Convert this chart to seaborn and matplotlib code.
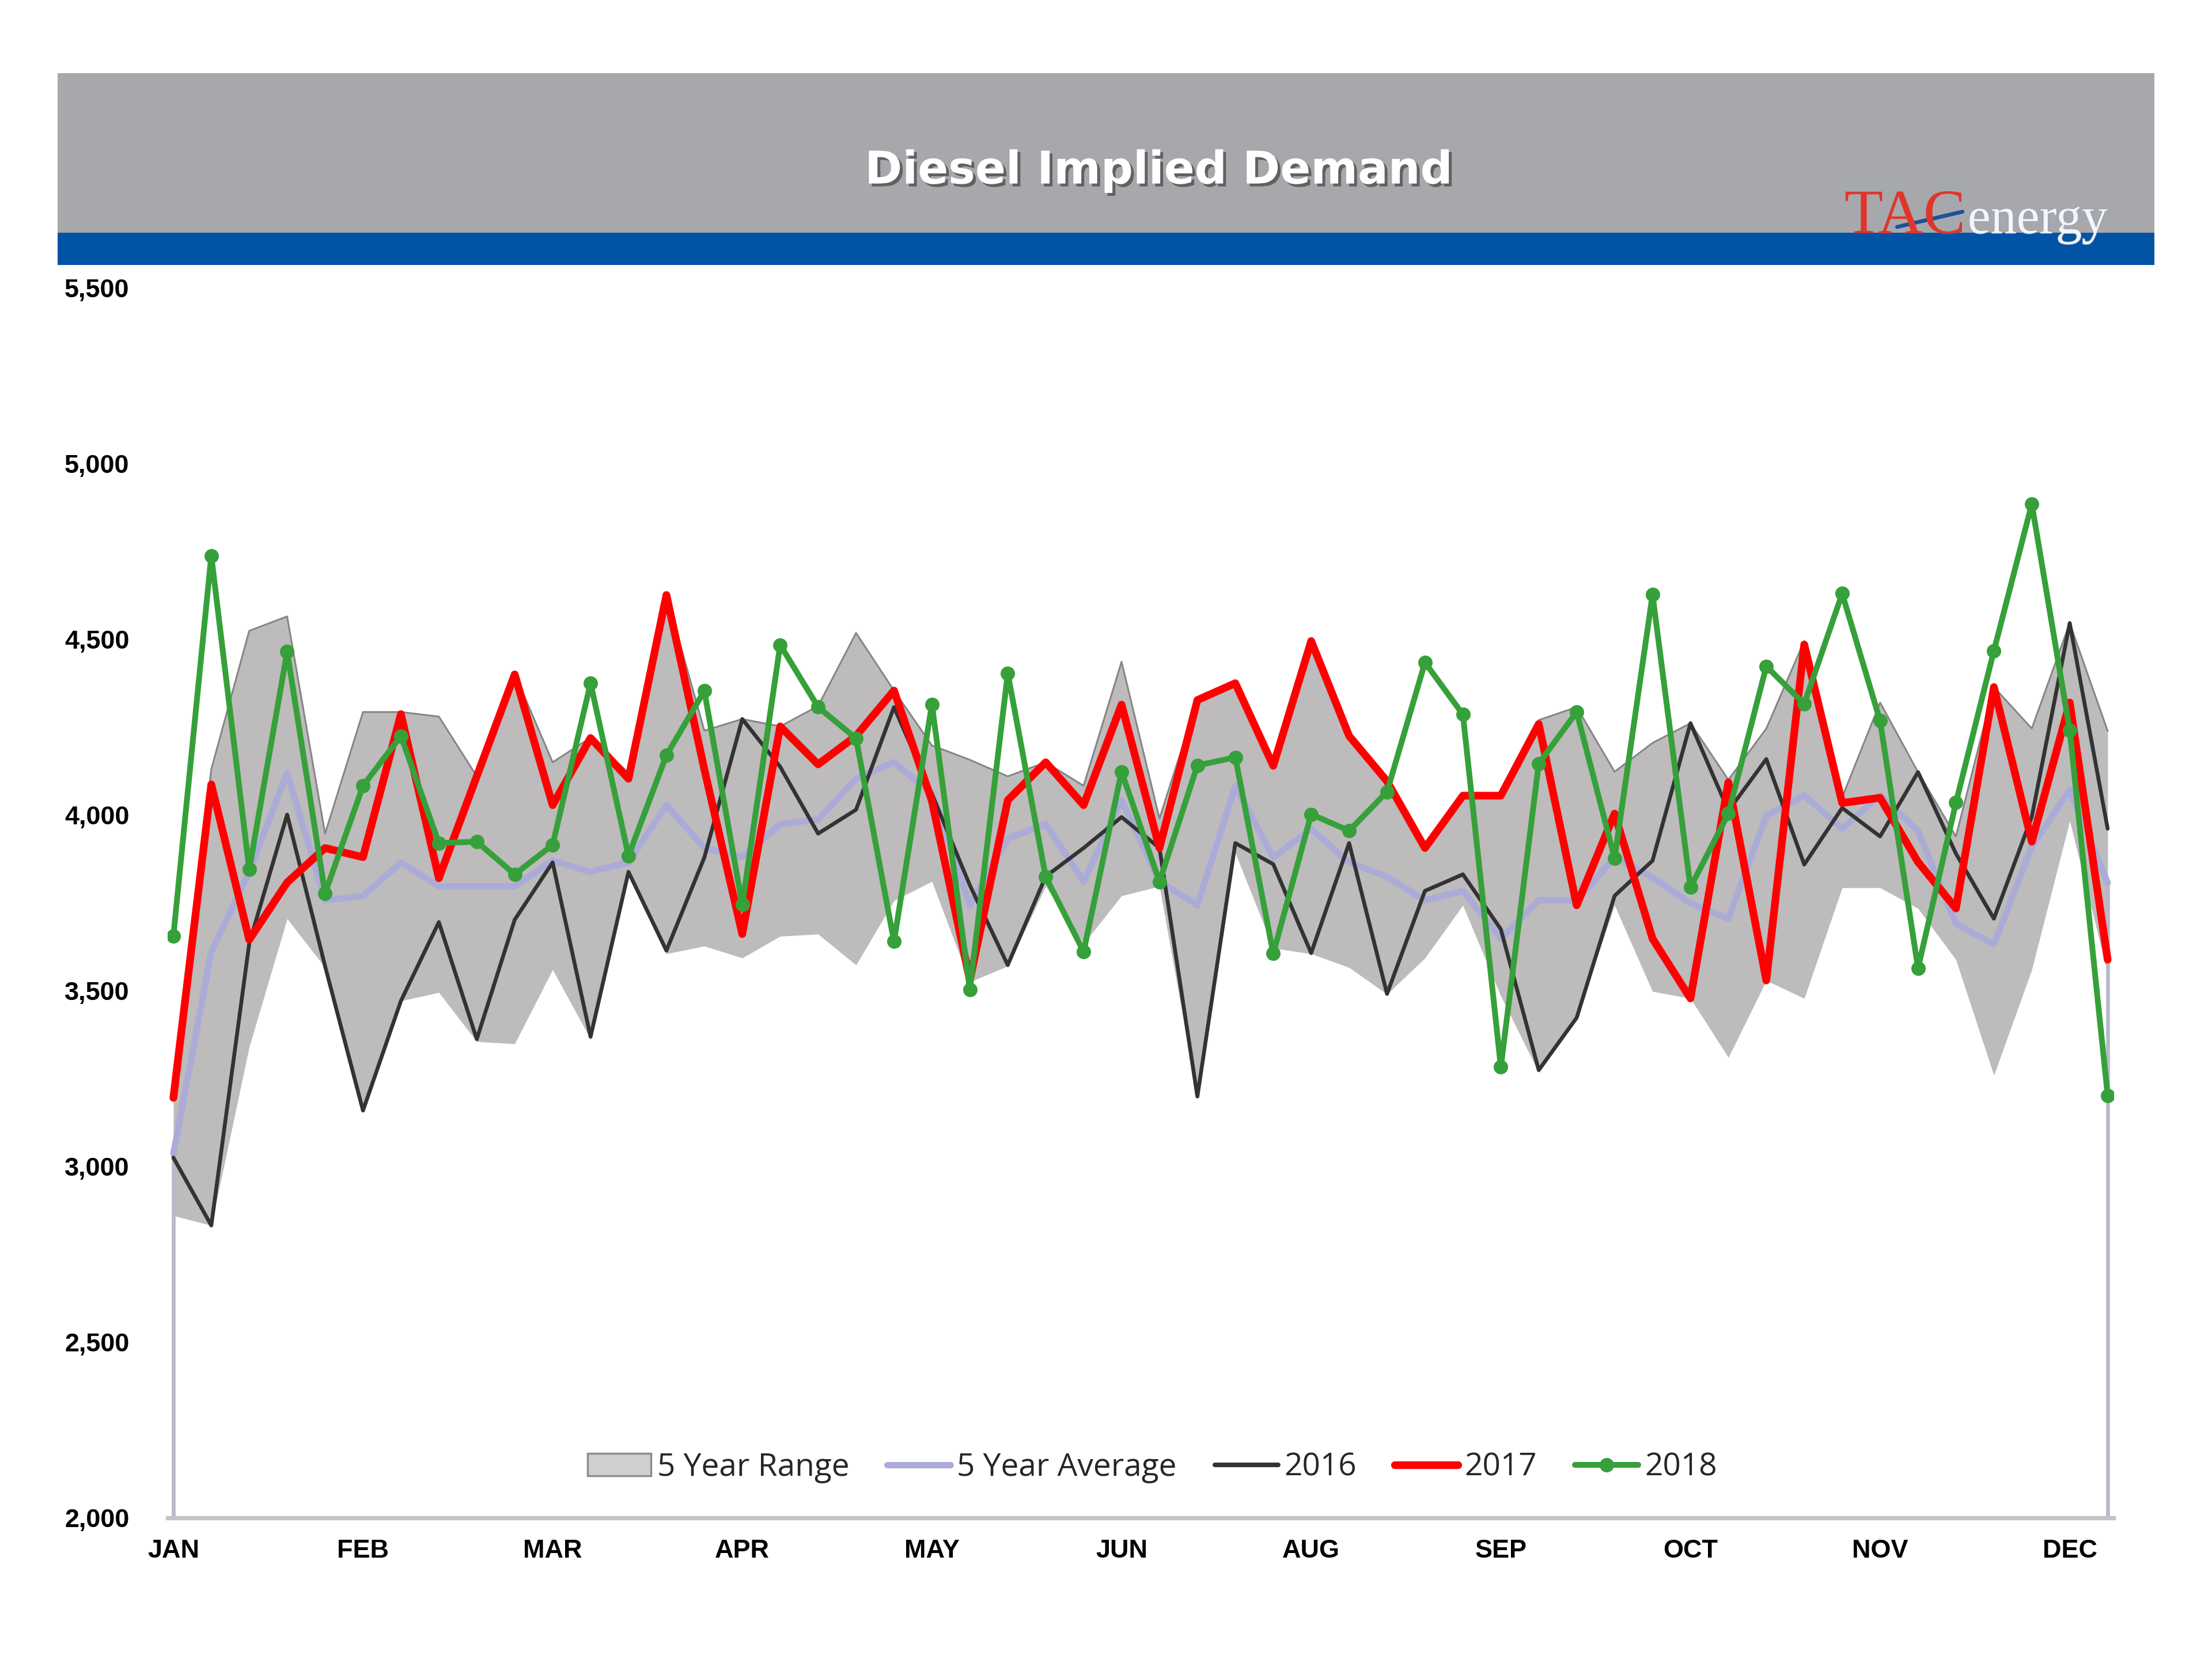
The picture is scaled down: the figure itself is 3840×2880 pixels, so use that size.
import matplotlib
matplotlib.use("Agg")
import matplotlib.pyplot as plt
import matplotlib.patheffects as pe
from matplotlib.patches import Patch, Rectangle
from matplotlib.lines import Line2D
import pandas as pd
import seaborn as sns

# weekly data, 52 weeks
week = list(range(52))
month_ticks = [0, 5, 10, 15, 20, 25, 30, 35, 40, 45, 50]
month_labels = ["JAN", "FEB", "MAR", "APR", "MAY", "JUN", "AUG", "SEP", "OCT", "NOV", "DEC"]
y_ticks = [2000, 2500, 3000, 3500, 4000, 4500, 5000, 5500]

range_low = [2860, 2832, 3340, 3705, 3566, 3155, 3471, 3495, 3355, 3349,
             3560, 3362, 3835, 3605, 3627, 3593, 3655, 3661, 3573, 3756,
             3811, 3525, 3570, 3797, 3634, 3770, 3797, 3195, 3892, 3621,
             3605, 3566, 3490, 3593, 3743, 3485, 3267, 3423, 3743, 3498,
             3478, 3310, 3529, 3478, 3793, 3793, 3734, 3588, 3259, 3560,
             3983, 3550]
range_high = [3210, 4130, 4524, 4565, 3947, 4293, 4293, 4280, 4110, 4402,
              4150, 4220, 4120, 4626, 4240, 4273, 4252, 4310, 4518, 4354,
              4198, 4157, 4110, 4150, 4083, 4436, 3990, 4327, 4375, 4150,
              4497, 4225, 4100, 3910, 4055, 4060, 4270, 4307, 4123, 4205,
              4261, 4100, 4246, 4495, 4050, 4320, 4122, 3939, 4364, 4246,
              4546, 4239]
avg_5yr = [3036, 3610, 3838, 4120, 3757, 3770, 3865, 3797, 3797, 3797,
           3870, 3838, 3865, 4028, 3906, 3880, 3974, 3987, 4103, 4150,
           4060, 3743, 3933, 3974, 3811, 4042, 3811, 3743, 4083, 3879,
           3960, 3865, 3824, 3757, 3784, 3648, 3757, 3757, 3879, 3822,
           3749, 3705, 3998, 4056, 3961, 4056, 3954, 3690, 3632, 3910,
           4071, 3807]
y2016 = [3025, 2832, 3634, 4001, 3570, 3159, 3471, 3695, 3362, 3702,
         3865, 3369, 3838, 3614, 3879, 4273, 4137, 3947, 4015, 4307,
         4060, 3800, 3573, 3825, 3906, 3994, 3906, 3199, 3920, 3860,
         3607, 3920, 3491, 3784, 3831, 3675, 3274, 3423, 3770, 3870,
         4261, 4012, 4159, 3859, 4020, 3939, 4122, 3890, 3705, 3995,
         4546, 3961]
y2017 = [3195, 4087, 3645, 3808, 3906, 3880, 4287, 3820, 4110, 4400,
         4028, 4219, 4103, 4626, 4130, 3661, 4252, 4144, 4225, 4354,
         4040, 3530, 4042, 4150, 4028, 4314, 3906, 4327, 4375, 4140,
         4495, 4225, 4096, 3906, 4055, 4055, 4259, 3743, 4004, 3648,
         3478, 4093, 3529, 4485, 4034, 4049, 3866, 3734, 4364, 3924,
         4320, 3588]
y2018 = [3655, 4738, 3845, 4465, 3777, 4083, 4225, 3920, 3924, 3831,
         3915, 4375, 3884, 4170, 4353, 3745, 4484, 4307, 4218, 3640,
         4315, 3503, 4403, 3824, 3611, 4123, 3810, 4141, 4164, 3606,
         4002, 3955, 4066, 4434, 4286, 3283, 4146, 4293, 3877, 4627,
         3794, 4004, 4423, 4316, 4630, 4268, 3564, 4035, 4467, 4885,
         4241, 3202]

df = pd.DataFrame({"week": week, "low": range_low, "high": range_high,
                   "avg": avg_5yr, "y2016": y2016, "y2017": y2017, "y2018": y2018})

c_range = "#BDBBBC"
c_avg = "#ABABD8"
c_2016 = "#333333"
c_2017 = "#FF0000"
c_2018 = "#36A03A"

sns.set_theme(style="white")
plt.rcParams["font.family"] = ["Liberation Sans", "DejaVu Sans"]

fig = plt.figure(figsize=(16, 12), dpi=240)

# header band
fig.patches.append(Rectangle((0.026, 0.8597), 0.948, 0.0962, transform=fig.transFigure,
                             facecolor="#A7A8AB", edgecolor="none"))
fig.patches.append(Rectangle((0.026, 0.8403), 0.948, 0.0194, transform=fig.transFigure,
                             facecolor="#0053A5", edgecolor="none"))
fig.text(0.524, 0.897, "Diesel Implied Demand", ha="center", va="center",
         color="white", fontsize=23.5, fontweight="bold", family="DejaVu Sans",
         path_effects=[pe.withSimplePatchShadow(offset=(1.5, -1.5), shadow_rgbFace="#444444", alpha=0.7)])
# logo
fig.text(0.8335, 0.8595, "TAC", color="#E0352B", fontsize=33, family="Liberation Serif",
         ha="left", va="baseline")
fig.text(0.8895, 0.8595, "energy", color="#F4F5FA", fontsize=27, family="Liberation Serif",
         ha="left", va="baseline",
         path_effects=[pe.withStroke(linewidth=0.6, foreground="#9AA0B4")])
fig.lines.append(Line2D([0.8576, 0.8872], [0.8632, 0.8724], transform=fig.transFigure,
                        color="#1F4E9A", lw=2.0))

ax = fig.add_axes([0.0758, 0.0851, 0.8796, 0.7414])

# 5 year range
ax.fill_between(df["week"], df["low"], df["high"], color=c_range, lw=0, zorder=1)
sns.lineplot(data=df, x="week", y="high", color="#858585", lw=0.9, ax=ax, zorder=2)
ax.vlines([week[0], week[-1]], y_ticks[0], [avg_5yr[0], avg_5yr[-1]],
          color="#B8B8CC", lw=2.0, zorder=2)

sns.lineplot(data=df, x="week", y="avg", color=c_avg, lw=3.3, ax=ax, zorder=3)
sns.lineplot(data=df, x="week", y="y2016", color=c_2016, lw=2.0, ax=ax, zorder=4)
sns.lineplot(data=df, x="week", y="y2017", color=c_2017, lw=4.0, ax=ax, zorder=5)
sns.lineplot(data=df, x="week", y="y2018", color=c_2018, lw=3.0, marker="o",
             markersize=7.5, markeredgewidth=0, ax=ax, zorder=6)

ax.set_xlim(-0.15, 51.15)
ax.set_ylim(y_ticks[0], y_ticks[-1])
ax.set_xticks(month_ticks)
ax.set_xticklabels(month_labels, fontsize=13.5, fontweight="bold")
ax.set_yticks(y_ticks)
ax.set_yticklabels([f"{v:,}" for v in y_ticks], fontsize=13.5, fontweight="bold")
ax.tick_params(axis="x", length=0, pad=11, colors="black")
ax.tick_params(axis="y", length=0, pad=20, colors="black")
ax.set_xlabel("")
ax.set_ylabel("")
ax.grid(False)
sns.despine(ax=ax, left=True)
ax.spines["bottom"].set_color("#C4C4C4")
ax.spines["bottom"].set_linewidth(2.2)

handles = [
    Patch(facecolor="#CFCFCF", edgecolor="#8A8A8A", lw=1.0),
    Line2D([], [], color=c_avg, lw=3.3),
    Line2D([], [], color=c_2016, lw=2.4),
    Line2D([], [], color=c_2017, lw=4.0),
    Line2D([], [], color=c_2018, lw=3.0, marker="o", markersize=7.5, markeredgewidth=0),
]
labels = ["5 Year Range", "5 Year Average", "2016", "2017", "2018"]
ax.legend(handles, labels, loc="center", bbox_to_anchor=(0.506, 0.041), ncol=5,
          frameon=False, handlelength=2.0, handletextpad=0.2,
          columnspacing=1.2, prop={"family": "Open Sans", "size": 16.5})

fig.savefig("out.png", dpi=240, facecolor="white")
